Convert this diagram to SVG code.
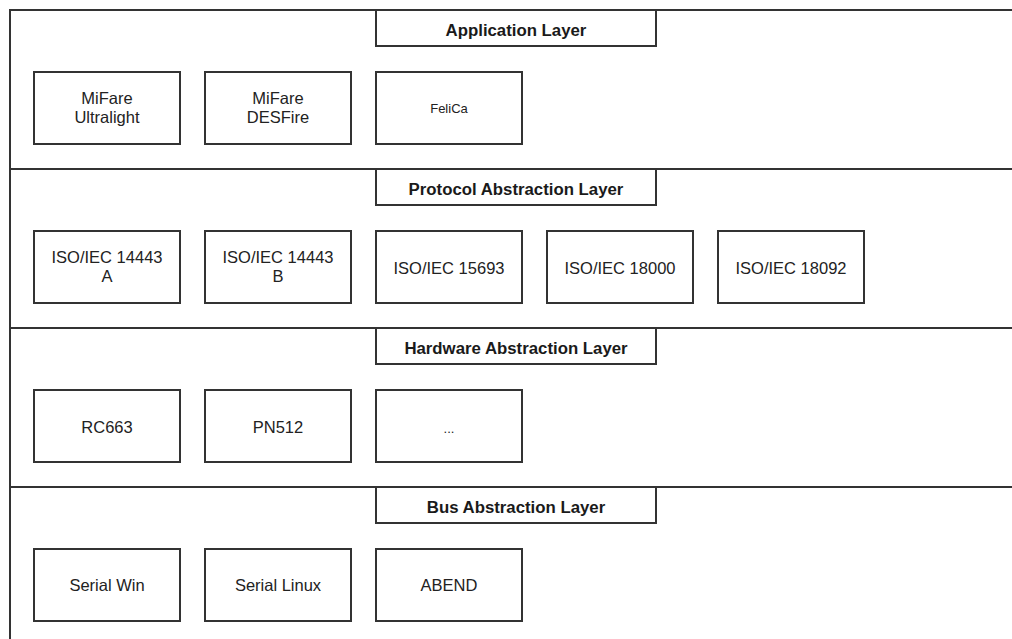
<svg xmlns="http://www.w3.org/2000/svg" width="1012" height="639" viewBox="0 0 1012 639">
<style>
.layer{fill:#fff;stroke:#333;stroke-width:2}
.title{fill:#fff;stroke:#333;stroke-width:2}
.node{fill:#fff;stroke:#333;stroke-width:2}
.tt{font-family:"Liberation Sans",Arial,sans-serif;font-weight:bold;font-size:16.8px;fill:#1a1a1a;text-anchor:middle}
.nt{font-family:"Liberation Sans",Arial,sans-serif;font-size:16.5px;fill:#222;text-anchor:middle}
</style>
<rect width="1012" height="639" fill="#fff"/>
<g id="app-layer">
<rect class="layer" x="10" y="10" width="1020" height="159"/>
<rect class="title" x="376" y="10" width="280" height="36"/>
<text class="tt" x="516" y="36">Application Layer</text>
</g>
<g id="protocol-layer">
<rect class="layer" x="10" y="169" width="1020" height="159"/>
<rect class="title" x="376" y="169" width="280" height="36"/>
<text class="tt" x="516" y="195">Protocol Abstraction Layer</text>
</g>
<g id="hardware-layer">
<rect class="layer" x="10" y="328" width="1020" height="159"/>
<rect class="title" x="376" y="328" width="280" height="36"/>
<text class="tt" x="516" y="354">Hardware Abstraction Layer</text>
</g>
<g id="bus-layer">
<rect class="layer" x="10" y="487" width="1020" height="200"/>
<rect class="title" x="376" y="487" width="280" height="36"/>
<text class="tt" x="516" y="513">Bus Abstraction Layer</text>
</g>
<g id="mifare-ultralight">
<rect class="node" x="34" y="72" width="146" height="72"/>
<text class="nt" x="107" y="104">MiFare</text>
<text class="nt" x="107" y="122.7">Ultralight</text>
</g>
<g id="mifare-desfire">
<rect class="node" x="205" y="72" width="146" height="72"/>
<text class="nt" x="278" y="104">MiFare</text>
<text class="nt" x="278" y="122.7">DESFire</text>
</g>
<g id="felica">
<rect class="node" x="376" y="72" width="146" height="72"/>
<text class="nt" x="449" y="113" style="font-size:13px">FeliCa</text>
</g>
<g id="iso14443a">
<rect class="node" x="34" y="231" width="146" height="72"/>
<text class="nt" x="107" y="263">ISO/IEC 14443</text>
<text class="nt" x="107" y="282">A</text>
</g>
<g id="iso14443b">
<rect class="node" x="205" y="231" width="146" height="72"/>
<text class="nt" x="278" y="263">ISO/IEC 14443</text>
<text class="nt" x="278" y="282">B</text>
</g>
<g id="iso15693">
<rect class="node" x="376" y="231" width="146" height="72"/>
<text class="nt" x="449" y="273.5">ISO/IEC 15693</text>
</g>
<g id="iso18000">
<rect class="node" x="547" y="231" width="146" height="72"/>
<text class="nt" x="620" y="273.5">ISO/IEC 18000</text>
</g>
<g id="iso18092">
<rect class="node" x="718" y="231" width="146" height="72"/>
<text class="nt" x="791" y="273.5">ISO/IEC 18092</text>
</g>
<g id="rc663">
<rect class="node" x="34" y="390" width="146" height="72"/>
<text class="nt" x="107" y="432.5">RC663</text>
</g>
<g id="pn512">
<rect class="node" x="205" y="390" width="146" height="72"/>
<text class="nt" x="278" y="432.5">PN512</text>
</g>
<g id="more">
<rect class="node" x="376" y="390" width="146" height="72"/>
<text class="nt" x="449" y="432.5" style="font-size:13px">...</text>
</g>
<g id="serial-win">
<rect class="node" x="34" y="549" width="146" height="72"/>
<text class="nt" x="107" y="591">Serial Win</text>
</g>
<g id="serial-linux">
<rect class="node" x="205" y="549" width="146" height="72"/>
<text class="nt" x="278" y="591">Serial Linux</text>
</g>
<g id="abend">
<rect class="node" x="376" y="549" width="146" height="72"/>
<text class="nt" x="449" y="591">ABEND</text>
</g>
<g id="connectors"></g>
</svg>
